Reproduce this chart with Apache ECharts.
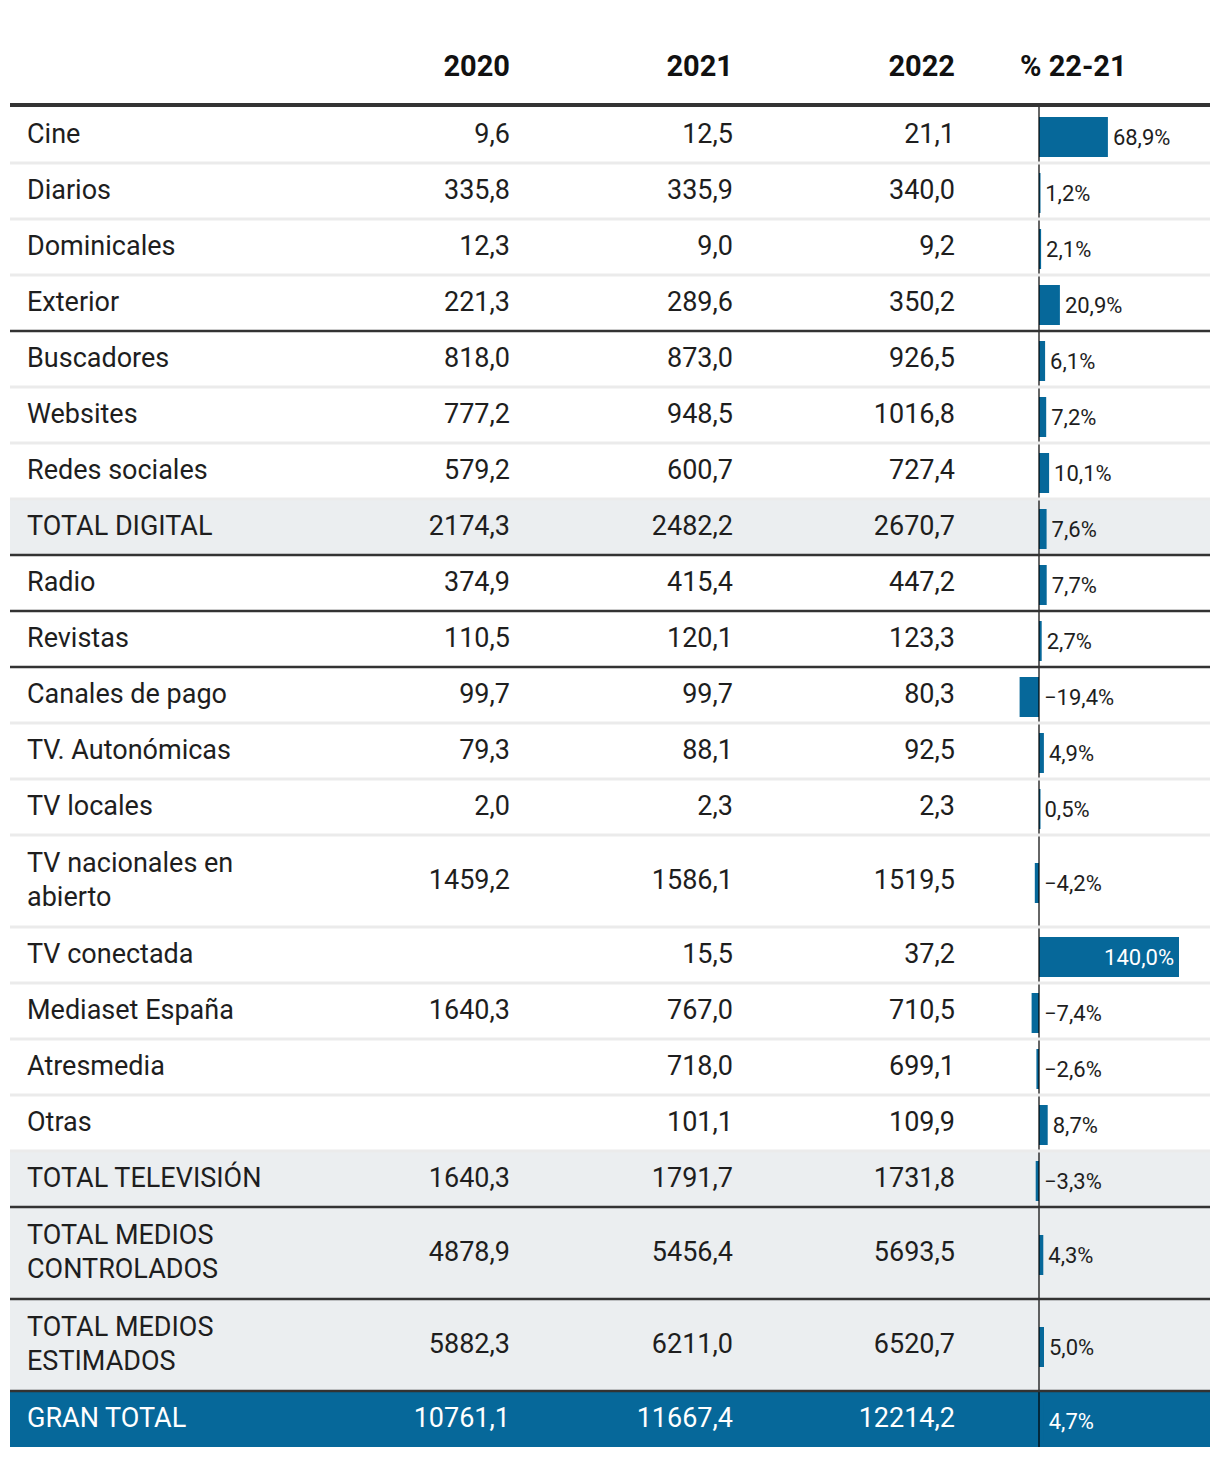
<!DOCTYPE html>
<html><head><meta charset="utf-8">
<script src="https://cdn.jsdelivr.net/npm/echarts@6/dist/echarts.min.js"></script>
<style>html,body{margin:0;padding:0;background:#fff}#c{width:1220px;height:1458px}</style>
</head><body><div id="c"></div>
<script>
// ---------- DATA ----------
const headers = ['2020', '2021', '2022', '% 22-21'];
const rowLabels = ['Cine', 'Diarios', 'Dominicales', 'Exterior', 'Buscadores', 'Websites', 'Redes sociales',
  'TOTAL DIGITAL', 'Radio', 'Revistas', 'Canales de pago', 'TV. Autonómicas', 'TV locales',
  'TV nacionales en\nabierto', 'TV conectada', 'Mediaset España', 'Atresmedia', 'Otras',
  'TOTAL TELEVISIÓN', 'TOTAL MEDIOS\nCONTROLADOS', 'TOTAL MEDIOS\nESTIMADOS', 'GRAN TOTAL'];
const v2020 = [9.6, 335.8, 12.3, 221.3, 818.0, 777.2, 579.2, 2174.3, 374.9, 110.5, 99.7, 79.3, 2.0, 1459.2, null, 1640.3, null, null, 1640.3, 4878.9, 5882.3, 10761.1];
const v2021 = [12.5, 335.9, 9.0, 289.6, 873.0, 948.5, 600.7, 2482.2, 415.4, 120.1, 99.7, 88.1, 2.3, 1586.1, 15.5, 767.0, 718.0, 101.1, 1791.7, 5456.4, 6211.0, 11667.4];
const v2022 = [21.1, 340.0, 9.2, 350.2, 926.5, 1016.8, 727.4, 2670.7, 447.2, 123.3, 80.3, 92.5, 2.3, 1519.5, 37.2, 710.5, 699.1, 109.9, 1731.8, 5693.5, 6520.7, 12214.2];
const pctChange = [68.9, 1.2, 2.1, 20.9, 6.1, 7.2, 10.1, 7.6, 7.7, 2.7, -19.4, 4.9, 0.5, -4.2, 140.0, -7.4, -2.6, 8.7, -3.3, 4.3, 5.0, 4.7];
const rowKind = ['', '', '', '', '', '', '', 'total', '', '', '', '', '', '', '', '', '', '', 'total', 'total', 'total', 'grand'];
const rowGroup = [0, 0, 0, 0, 1, 1, 1, 1, 2, 3, 4, 4, 4, 4, 4, 4, 4, 4, 4, 5, 6, 7];

// ---------- LAYOUT / STYLE ----------
const FONT = 'Roboto, "Noto Sans", sans-serif';
const TEXT = '#1e1e1e';
const BLUE = '#06689a';
const GREY_BG = '#ebeef0';
const TOP = 107;
const lineCount = rowLabels.map(s => s.split('\n').length);
const rowH = lineCount.map(n => 20 + 36 * n);
const rowStart = [];
let acc = 0;
rowH.forEach(h => { rowStart.push(acc); acc += h; });
const TOTAL_H = acc;
const rowMid = rowStart.map((s, i) => s + rowH[i] / 2);
const COL_X = [510, 733, 955];

const fmt = v => v == null ? '' : v.toFixed(1).replace('.', ',');
const fmtPct = v => (v < 0 ? '\u2212' : '') + Math.abs(v).toFixed(1).replace('.', ',') + '%';

const chart = echarts.init(document.getElementById('c'), null, { renderer: 'svg' });

function rowBounds(api, i) {
  const y0 = api.coord([0, rowStart[i]])[1];
  const y1 = api.coord([0, rowStart[i] + rowH[i]])[1];
  return [y0, y1];
}
const rowData = rowMid.map(m => [0.5, m]);

const option = {
  animation: false,
  backgroundColor: '#fff',
  grid: [
    { left: 10, right: 10, top: TOP, height: TOTAL_H },
    { left: 1009, width: 200, top: TOP, height: TOTAL_H }
  ],
  xAxis: [
    { type: 'value', gridIndex: 0, min: 0, max: 1, show: false },
    { type: 'value', gridIndex: 1, min: -30, max: 170, show: false }
  ],
  yAxis: [
    { type: 'value', gridIndex: 0, min: 0, max: TOTAL_H, inverse: true, show: false },
    { type: 'value', gridIndex: 1, min: 0, max: TOTAL_H, inverse: true, show: false }
  ],
  graphic: [
    ...headers.slice(0, 3).map((h, k) => ({
      type: 'text', right: 1220 - COL_X[k], top: 51, z: 10,
      style: { text: h, font: 'bold 29px ' + FONT, fill: '#111', textAlign: 'right' }
    })),
    { type: 'text', left: 1020, top: 51, z: 10,
      style: { text: headers[3], font: 'bold 29px ' + FONT, fill: '#111' } },
    { type: 'rect', left: 10, top: 103, z: 10, shape: { width: 1200, height: 4 }, style: { fill: '#333' } }
  ],
  series: [
    { // row backgrounds
      type: 'custom', xAxisIndex: 0, yAxisIndex: 0, z: 1, data: rowData, silent: true,
      renderItem: (params, api) => {
        const i = params.dataIndex;
        if (!rowKind[i]) return null;
        const [y0, y1] = rowBounds(api, i);
        const x0 = api.coord([0, 0])[0], x1 = api.coord([1, 0])[0];
        return { type: 'rect', shape: { x: x0, y: y0, width: x1 - x0, height: y1 - y0 },
          style: { fill: rowKind[i] === 'grand' ? BLUE : GREY_BG } };
      }
    },
    { // % change bars
      type: 'custom', xAxisIndex: 1, yAxisIndex: 1, z: 2, silent: true,
      data: pctChange.map((p, i) => [p, rowMid[i]]),
      renderItem: (params, api) => {
        const i = params.dataIndex;
        const p = api.value(0);
        const a = api.coord([0, api.value(1)]);
        const b = api.coord([p, api.value(1)]);
        const x = Math.min(a[0], b[0]);
        const w = Math.abs(b[0] - a[0]);
        const cy = a[1] + 2;
        const label = fmtPct(p);
        const grand = rowKind[i] === 'grand';
        const fontSize = 22;
        const estW = label.length * 11;
        const right = api.coord([170, 0])[0];
        let tx, align, fill;
        if (p >= 0 && b[0] + 5 + estW > right) {
          tx = b[0] - 5; align = 'right'; fill = '#fff';
        } else {
          tx = (p >= 0 ? b[0] : a[0]) + 5; align = 'left'; fill = grand ? '#fff' : TEXT;
        }
        return { type: 'group', children: [
          { type: 'rect', shape: { x: x, y: cy - 20, width: Math.max(w, 1.5), height: 40 }, style: { fill: BLUE } },
          { type: 'text', z2: 5, style: { x: tx, y: cy, text: label, textAlign: align, textVerticalAlign: 'middle',
            font: fontSize + 'px ' + FONT, fill: fill } }
        ] };
      }
    },
    { // zero line
      type: 'custom', xAxisIndex: 1, yAxisIndex: 1, z: 3, silent: true, data: rowData,
      renderItem: (params, api) => {
        const i = params.dataIndex;
        const [y0, y1] = rowBounds(api, i);
        const x = api.coord([0, 0])[0];
        return { type: 'line', shape: { x1: x, y1: y0, x2: x, y2: y1 },
          style: { stroke: 'rgba(0,0,0,0.6)', lineWidth: 2 } };
      }
    },
    { // separators and text cells
      type: 'custom', xAxisIndex: 0, yAxisIndex: 0, z: 4, silent: true, data: rowData,
      renderItem: (params, api) => {
        const i = params.dataIndex;
        const [y0, y1] = rowBounds(api, i);
        const x0 = api.coord([0, 0])[0], x1 = api.coord([1, 0])[0];
        const cy = (y0 + y1) / 2 - 1.5;
        const grand = rowKind[i] === 'grand';
        const fill = grand ? '#fff' : TEXT;
        const children = [];
        if (i < rowLabels.length - 1) {
          const dark = rowGroup[i] !== rowGroup[i + 1];
          children.push({ type: 'line', shape: { x1: x0, y1: y1, x2: x1, y2: y1 },
            style: { stroke: dark ? '#333' : '#ebebeb', lineWidth: dark ? 2.5 : 3 } });
        }
        children.push({ type: 'text', style: { x: 27, y: cy, text: rowLabels[i], textAlign: 'left',
          textVerticalAlign: 'middle', font: '27px ' + FONT, lineHeight: 34, fill: fill } });
        [v2020, v2021, v2022].forEach((arr, k) => {
          if (arr[i] == null) return;
          children.push({ type: 'text', style: { x: COL_X[k], y: cy, text: fmt(arr[i]), textAlign: 'right',
            textVerticalAlign: 'middle', font: '27px ' + FONT, fill: fill } });
        });
        return { type: 'group', children };
      }
    }
  ]
};
chart.setOption(option);
</script>
</body></html>
